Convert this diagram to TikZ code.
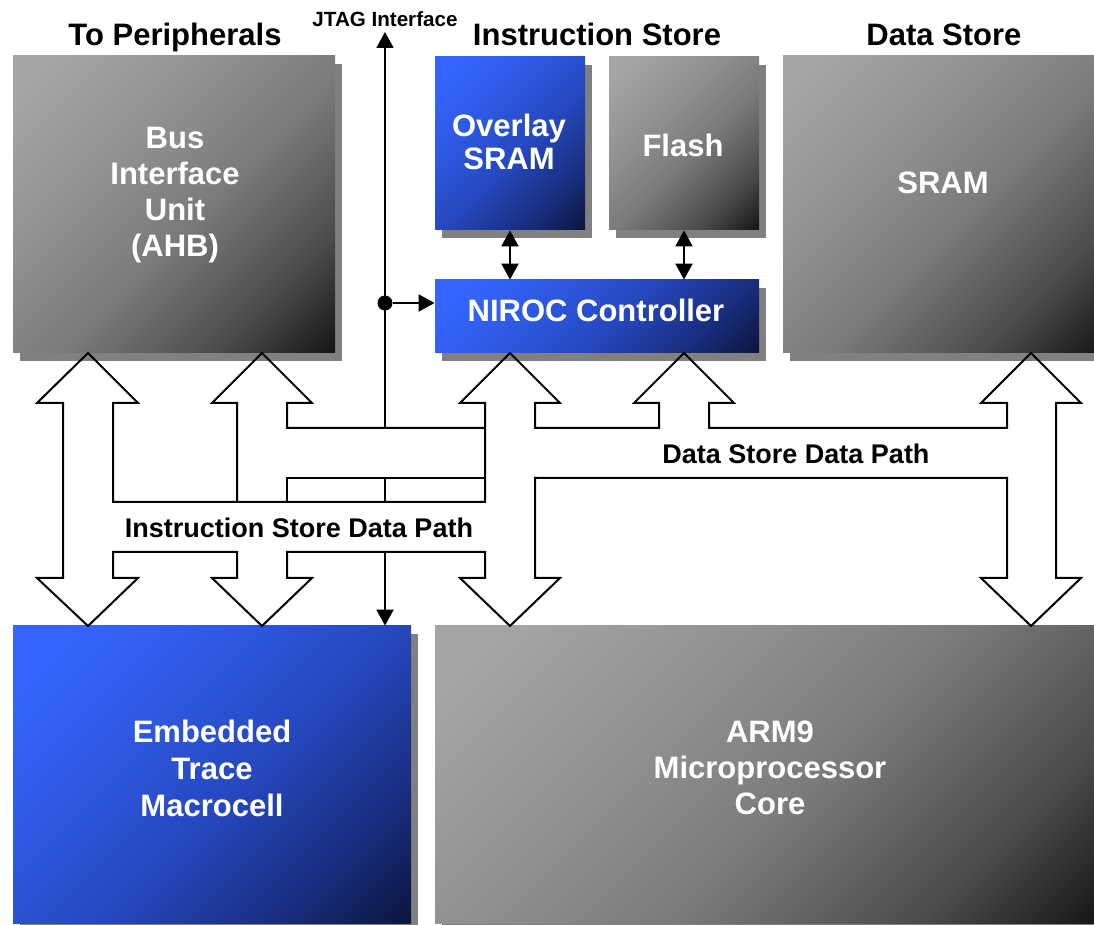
\documentclass[tikz,border=0pt]{standalone}
\usepackage{fontspec}
\setmainfont{Liberation Sans}
\usetikzlibrary{arrows.meta,positioning,shadows,calc}

\definecolor{greylight}{RGB}{165,165,165}
\definecolor{greyupper}{RGB}{145,145,145}
\definecolor{greymid}{RGB}{122,122,122}
\definecolor{greylow}{RGB}{75,75,75}
\definecolor{greydark}{RGB}{10,10,10}
\definecolor{bluelight}{RGB}{52,102,255}
\definecolor{blueupper}{RGB}{46,88,225}
\definecolor{bluemid}{RGB}{38,72,190}
\definecolor{bluelow}{RGB}{24,45,125}
\definecolor{bluedark}{RGB}{10,16,48}
\definecolor{shadowgrey}{RGB}{128,128,128}

\pgfdeclareverticalshading{greyfade}{100bp}{color(0bp)=(greydark); color(12bp)=(greydark); color(28bp)=(greylow); color(46bp)=(greymid); color(62bp)=(greyupper); color(80bp)=(greylight); color(100bp)=(greylight)}
\pgfdeclareverticalshading{bluefade}{100bp}{color(0bp)=(bluedark); color(12bp)=(bluedark); color(28bp)=(bluelow); color(46bp)=(bluemid); color(62bp)=(blueupper); color(80bp)=(bluelight); color(100bp)=(bluelight)}

\tikzset{
  boxshadow/.style={drop shadow={shadow xshift=3.25pt, shadow yshift=-4pt, fill=shadowgrey, opacity=1}},
  greybox/.style={rectangle, inner sep=0pt, boxshadow, shade, shading=greyfade, shading angle=45},
  bluebox/.style={rectangle, inner sep=0pt, boxshadow, shade, shading=bluefade, shading angle=45},
  boxtext/.style={text=white, align=center, font=\fontsize{15.5pt}{18pt}\selectfont\bfseries},
  storetitle/.style={anchor=base, font=\fontsize{15.5pt}{18pt}\selectfont\bfseries},
  pathlabel/.style={anchor=base, font=\fontsize{13.5pt}{16pt}\selectfont\bfseries},
  blockarrow/.style={draw, line width=1pt, line join=miter},
  wire/.style={line width=1pt, -{Triangle[length=8pt, width=8.5pt]}},
  dblwire/.style={line width=1pt, {Triangle[length=8pt, width=8.5pt]}-{Triangle[length=8pt, width=8.5pt]}},
  tapdot/.style={circle, fill=black, inner sep=0pt, minimum size=7.5pt}
}

\begin{document}
\begin{tikzpicture}[x=0.5pt, y=-0.5pt]
\useasboundingbox (0,0) rectangle (1094,925);

% Boxes
\node[greybox, minimum width=161pt, minimum height=148.5pt] (biu) at (174,204.5) {};
\node[bluebox, minimum width=75pt, minimum height=86.5pt] (ovl) at (510,143.5) {};
\node[greybox, minimum width=75pt, minimum height=86.5pt] (flash) at (684,143.5) {};
\node[bluebox, minimum width=162pt, minimum height=36.5pt] (niroc) at (597,316.5) {};
\node[greybox, minimum width=160pt, minimum height=148.5pt] (sram) at (943,204.5) {};
\node[bluebox, minimum width=199pt, minimum height=148.5pt] (etm) at (212,774.5) {};
\node[greybox, minimum width=335pt, minimum height=148.5pt] (arm) at (770,774.5) {};

% Box texts
\node[boxtext] (biutext) at (175,195) {Bus\\Interface\\Unit\\(AHB)};
\node[boxtext, font=\fontsize{15.5pt}{16.5pt}\selectfont\bfseries] (ovltext) at (509,141.5) {Overlay\\SRAM};
\node[boxtext] (flashtext) at (683,145) {Flash};
\node[boxtext] (niroctext) at (596,310.5) {NIROC Controller};
\node[boxtext] (sramtext) at (943,183) {SRAM};
\node[boxtext, font=\fontsize{15.5pt}{18.5pt}\selectfont\bfseries] (etmtext) at (212,768) {Embedded\\Trace\\Macrocell};
\node[boxtext] (armtext) at (770,767.5) {ARM9\\Microprocessor\\Core};

% Titles
\node[storetitle] (periph) at (175,46) {To Peripherals};
\node[storetitle] (istore) at (597,46) {Instruction Store};
\node[storetitle] (dstore) at (944,46) {Data Store};
\node[anchor=base, font=\fontsize{10.3pt}{12pt}\selectfont\bfseries] (jtag) at (385,27) {JTAG Interface};

% Data paths
\draw[blockarrow]
  (88,353) -- (37,403) -- (63,403) -- (63,578) -- (37,578) -- (88,626) -- (138,578) -- (113,578) -- (113,552)
  -- (237,552) -- (237,578) -- (212,578) -- (262,626) -- (312,578) -- (287,578) -- (287,552)
  -- (485,552) -- (485,578) -- (460,578) -- (510,626) -- (560,578) -- (535,578) -- (535,478)
  -- (1007,478) -- (1007,578) -- (981,578) -- (1031,626) -- (1081,578) -- (1056,578) -- (1056,403)
  -- (1081,403) -- (1031,353) -- (981,403) -- (1007,403) -- (1007,428)
  -- (709,428) -- (709,403) -- (734,403) -- (684,353) -- (634,403) -- (659,403) -- (659,428)
  -- (535,428) -- (535,403) -- (560,403) -- (510,353) -- (460,403) -- (485,403) -- (485,502)
  -- (113,502) -- (113,403) -- (138,403) -- cycle;
\draw[blockarrow] (485,428) -- (287,428) -- (287,403) -- (312,403) -- (262,353) -- (212,403) -- (237,403) -- (237,502);
\draw[blockarrow] (287,502) -- (287,478) -- (485,478);

\node[pathlabel] (ipath) at (299,538) {Instruction Store Data Path};
\node[pathlabel] (dpath) at (796,464) {Data Store Data Path};

% JTAG
\coordinate (jtagtop) at (385,32);
\coordinate (jtagbus) at (385,428);
\node[tapdot] (tap) at (385,303) {};
\draw[wire] (jtagbus) -- (jtagtop);
\draw[wire] (tap) -- (tap -| niroc.west);
\draw[line width=1pt] (385,478) -- (385,502);
\draw[wire] (385,552) -- (tap |- etm.north);

% Instruction store links
\draw[dblwire] (ovl.south) -- (ovl.south |- niroc.north);
\draw[dblwire] (flash.south) -- (flash.south |- niroc.north);

\end{tikzpicture}
\end{document}
